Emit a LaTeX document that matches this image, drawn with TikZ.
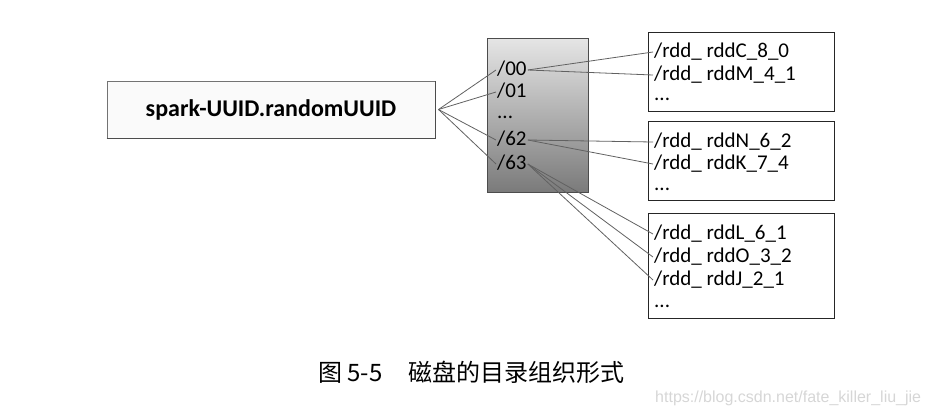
\documentclass[tikz,border=0pt]{standalone}
\usepackage{fontspec}
\setmainfont{Carlito}
\newfontfamily\cjk{Noto Sans CJK SC}
\newfontfamily\markfont{Liberation Sans}
\usetikzlibrary{positioning,calc}

\begin{document}
\begin{tikzpicture}[
    x=1pt, y=-1pt,
    link/.style={draw=black!62, line width=0.8pt},
    uuidbox/.style={draw=black!55, line width=1pt, fill=black!2, minimum width=328pt, minimum height=57pt, font=\fontsize{24}{28}\selectfont\bfseries},
    dirbox/.style={draw=black!70, line width=1pt, top color=black!10, bottom color=black!52, minimum width=101pt, minimum height=154pt},
    dirname/.style={anchor=west, inner sep=1pt, text height=14pt, text depth=4pt, font=\fontsize{21}{24}\selectfont},
    filebox/.style={draw=black!85, line width=1.4pt, fill=white, minimum width=186pt, anchor=north west},
    filename/.style={anchor=west, inner sep=1pt, text height=14pt, text depth=4pt, font=\fontsize{21}{24}\selectfont}
]
    \useasboundingbox (0,0) rectangle (929,416);

    % uuid directory
    \node[uuidbox] (uuid) at (271,109.5) {spark-UUID.randomUUID};
    \draw[black!70, line width=1.6pt] (uuid.south west) -- (uuid.south east) -- (uuid.north east);
    \coordinate (hub) at ([xshift=3pt]uuid.east);

    % sub directories
    \node[dirbox] (disk) at (537.5,115) {};
    \node[dirname] (d00) at (496,70) {/00};
    \node[dirname] (d01) at (496,92) {/01};
    \node[dirname] (dmore) at (496,113) {...};
    \node[dirname] (d62) at (496,140) {/62};
    \node[dirname] (d63) at (496,164) {/63};

    % block files
    \node[filebox, minimum height=79pt] (fa) at (648,32) {};
    \node[filebox, minimum height=79pt] (fb) at (648,121) {};
    \node[filebox, minimum height=105pt] (fc) at (648,213) {};

    \node[filename] (rddC) at (653,52) {/rdd\_ rddC\_8\_0};
    \node[filename] (rddM) at (653,75) {/rdd\_ rddM\_4\_1};
    \node[filename] (moreA) at (653,95) {...};
    \node[filename] (rddN) at (653,142) {/rdd\_ rddN\_6\_2};
    \node[filename] (rddK) at (653,164) {/rdd\_ rddK\_7\_4};
    \node[filename] (moreB) at (653,185) {...};
    \node[filename] (rddL) at (653,234) {/rdd\_ rddL\_6\_1};
    \node[filename] (rddO) at (653,257) {/rdd\_ rddO\_3\_2};
    \node[filename] (rddJ) at (653,280) {/rdd\_ rddJ\_2\_1};
    \node[filename] (moreC) at (653,302) {...};

    % links
    \foreach \d in {d00,d01,d62,d63}
        \draw[link] (hub) -- (\d.west);
    \draw[link] (d00.east) -- (rddC.west);
    \draw[link] (d00.east) -- (rddM.west);
    \draw[link] (d62.east) -- (rddN.west);
    \draw[link] (d62.east) -- (rddK.west);
    \foreach \f in {rddL,rddO,rddJ}
        \draw[link] (d63.east) -- (\f.west);

    % caption
    \node[anchor=west, inner sep=0, font=\cjk\fontsize{24}{28}\selectfont] (caption) at (318,372) {图 5-5\hspace{1.1em}磁盘的目录组织形式};
    \node[anchor=west, inner sep=0, text=black!16, font=\markfont\fontsize{16}{18}\selectfont] (mark) at (655,398) {https://blog.csdn.net/fate\_killer\_liu\_jie};
\end{tikzpicture}
\end{document}
